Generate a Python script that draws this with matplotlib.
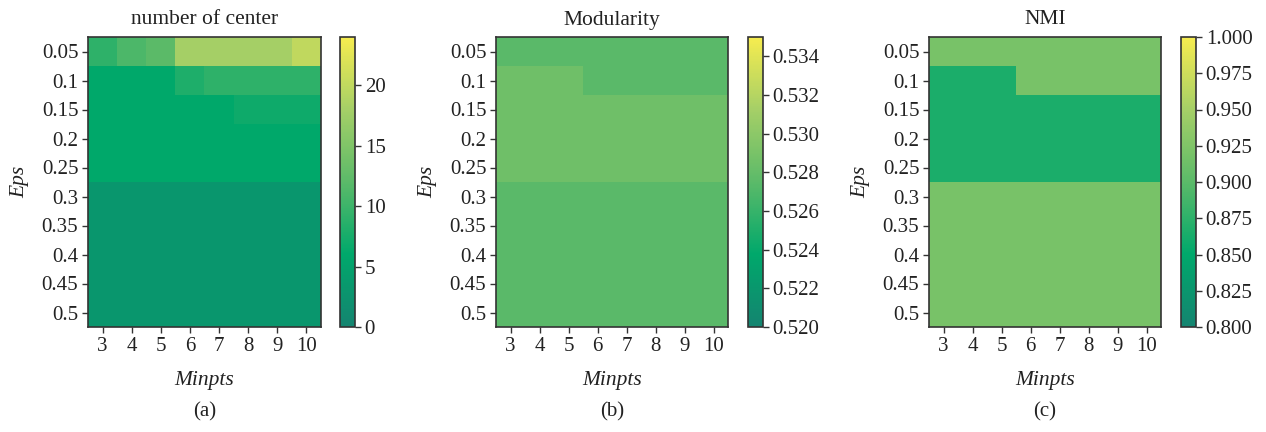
import numpy as np
import matplotlib
matplotlib.use("Agg")
import matplotlib.pyplot as plt
from matplotlib.colors import LinearSegmentedColormap

plt.rcParams['font.family'] = ['Liberation Serif', 'DejaVu Serif']

eps_labels = ["0.05", "0.1", "0.15", "0.2", "0.25", "0.3", "0.35", "0.4", "0.45", "0.5"]
minpts_labels = ["3", "4", "5", "6", "7", "8", "9", "10"]

centers = [
    [9, 11, 12, 18, 18, 18, 18, 20],
    [6, 6, 6, 8, 9, 9, 9, 9],
    [6, 6, 6, 6, 6, 7, 7, 7],
    [6, 6, 6, 6, 6, 6, 6, 6],
    [6, 6, 6, 6, 6, 6, 6, 6],
    [3, 3, 3, 3, 3, 3, 3, 3],
    [3, 3, 3, 3, 3, 3, 3, 3],
    [3, 3, 3, 3, 3, 3, 3, 3],
    [3, 3, 3, 3, 3, 3, 3, 3],
    [3, 3, 3, 3, 3, 3, 3, 3],
]
modularity = [
    [0.5275] * 8,
    [0.5285, 0.5285, 0.5285, 0.5275, 0.5275, 0.5275, 0.5275, 0.5275],
    [0.5285] * 8,
    [0.5285] * 8,
    [0.5285] * 8,
    [0.5275] * 8,
    [0.5275] * 8,
    [0.5275] * 8,
    [0.5275] * 8,
    [0.5275] * 8,
]
nmi = [
    [0.92] * 8,
    [0.865, 0.865, 0.865, 0.92, 0.92, 0.92, 0.92, 0.92],
    [0.865] * 8,
    [0.865] * 8,
    [0.865] * 8,
    [0.92] * 8,
    [0.92] * 8,
    [0.92] * 8,
    [0.92] * 8,
    [0.92] * 8,
]

cmap = LinearSegmentedColormap.from_list(
    "tealyellow",
    [(0.0, "#148470"), (0.25, "#00a86b"), (0.5, "#5bba69"),
     (0.75, "#a5cf67"), (1.0, "#f6ec4f")])

W, H = 1266, 432
def fx(px): return px / W
def fy(py): return 1 - py / H

fig = plt.figure(figsize=(W / 100, H / 100), dpi=100)

panels = [
    dict(data=centers, title="number of center", vmin=0, vmax=24,
         ticks=[0, 5, 10, 15, 20], fmt="{:.0f}", ax_l=88, ax_r=321,
         cb_l=340, cb_r=355, tag="(a)"),
    dict(data=modularity, title="Modularity", vmin=0.520, vmax=0.535,
         ticks=[0.520, 0.522, 0.524, 0.526, 0.528, 0.530, 0.532, 0.534],
         fmt="{:.3f}", ax_l=496, ax_r=728, cb_l=748, cb_r=763, tag="(b)"),
    dict(data=nmi, title="NMI", vmin=0.8, vmax=1.0,
         ticks=[0.800, 0.825, 0.850, 0.875, 0.900, 0.925, 0.950, 0.975, 1.000],
         fmt="{:.3f}", ax_l=929, ax_r=1161, cb_l=1181, cb_r=1196, tag="(c)"),
]

top_px, bot_px = 37, 327
edge = "#333333"
txt = "#222222"
for p in panels:
    ax = fig.add_axes([fx(p["ax_l"]), fy(bot_px), fx(p["ax_r"] - p["ax_l"]),
                       (bot_px - top_px) / H])
    im = ax.imshow(np.array(p["data"]), cmap=cmap, vmin=p["vmin"], vmax=p["vmax"],
                   aspect="auto", interpolation="nearest")
    ax.set_xticks(range(len(minpts_labels)))
    ax.set_xticklabels(minpts_labels)
    ax.set_yticks(range(len(eps_labels)))
    ax.set_yticklabels(eps_labels)
    ax.tick_params(labelsize=15, length=4, width=1, color=edge, labelcolor=txt, pad=3)
    for s in ax.spines.values():
        s.set_color(edge)
        s.set_linewidth(1.2)
    ax.set_title(p["title"], fontsize=15.5, color=txt, pad=9)
    ax.set_xlabel("Minpts", fontsize=15.5, style="italic", color=txt, labelpad=11)
    ax.set_ylabel("Eps", fontsize=15.5, style="italic", color=txt, labelpad=9)
    cax = fig.add_axes([fx(p["cb_l"]), fy(bot_px), fx(p["cb_r"] - p["cb_l"]),
                        (bot_px - top_px) / H])
    cb = fig.colorbar(im, cax=cax)
    cb.set_ticks(p["ticks"])
    cb.set_ticklabels([p["fmt"].format(t) for t in p["ticks"]])
    cb.ax.tick_params(labelsize=15, length=4, width=1, color=edge, labelcolor=txt, pad=3)
    cb.outline.set_edgecolor(edge)
    cb.outline.set_linewidth(1.2)
    cx = (p["ax_l"] + p["ax_r"]) / 2
    fig.text(fx(cx), fy(412), p["tag"], ha="center", va="center", fontsize=15, color=txt)

fig.savefig("out.png", dpi=100)
